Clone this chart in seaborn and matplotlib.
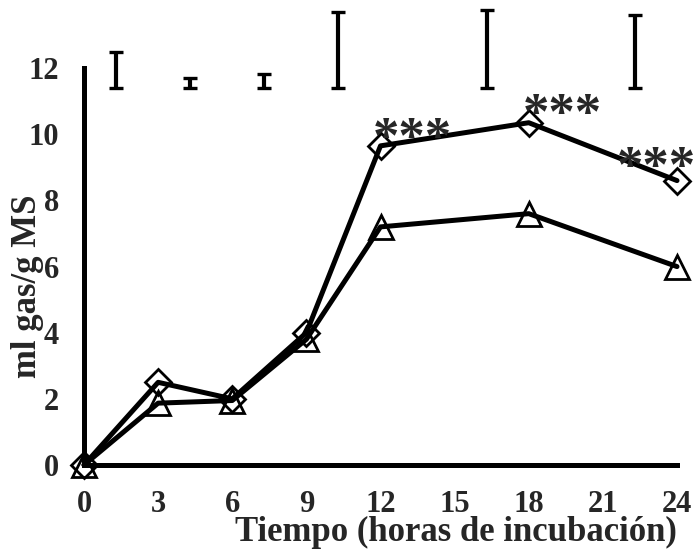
import matplotlib
matplotlib.use("Agg", force=True)
import matplotlib.pyplot as plt
import pandas as pd
import seaborn as sns

hours = [0, 3, 6, 9, 12, 18, 24]
gas_diamond = [0.0, 2.5, 2.0, 4.0, 9.65, 10.35, 8.6]
gas_triangle = [0.0, 1.87, 1.95, 3.8, 7.2, 7.6, 6.0]

# bars drawn along the top of the plot
bar_x = [1.3, 4.3, 7.3, 10.3, 16.3, 22.3]
bar_low = [11.4, 11.4, 11.4, 11.4, 11.4, 11.4]
bar_high = [12.5, 11.7, 11.82, 13.69, 13.75, 13.6]

star_hours = [12, 18, 24]
star_labels = ["***", "***", "***"]


def main() -> None:
    sns.set_style("white")
    plt.rcParams["font.family"] = ["Liberation Serif", "DejaVu Serif"]
    plt.rcParams["font.weight"] = "bold"

    df = pd.DataFrame({"hora": hours, "diamond": gas_diamond, "triangle": gas_triangle})

    fig = plt.figure(figsize=(6.94, 5.49), dpi=100)
    ax = fig.add_axes([84 / 694, 1 - 465 / 549, (677 - 84) / 694, 463 / 549])

    line_kw = dict(color="black", linewidth=3.6, markerfacecolor="none",
                   markeredgecolor="black", markeredgewidth=2.0, clip_on=False, zorder=3)
    sns.lineplot(data=df, x="hora", y="diamond", marker="D", markersize=13, ax=ax, **line_kw)
    sns.lineplot(data=df, x="hora", y="triangle", marker="^", markersize=17, ax=ax, **line_kw)

    mids = [(lo + hi) / 2 for lo, hi in zip(bar_low, bar_high)]
    half = [(hi - lo) / 2 for lo, hi in zip(bar_low, bar_high)]
    ax.errorbar(bar_x, mids, yerr=half, fmt="none", ecolor="black",
                elinewidth=3, capsize=5, capthick=2.4, clip_on=False)

    # star offsets in points from the diamond marker
    offsets = [(23, 4), (24, 5), (-15, 8)]
    for h, lab, off in zip(star_hours, star_labels, offsets):
        y = gas_diamond[hours.index(h)]
        ax.annotate(lab, (h, y), xytext=off, textcoords="offset points",
                    ha="center", va="center", fontsize=38, fontweight="bold",
                    annotation_clip=False, zorder=4)

    ax.set_xlim(0, 24)
    ax.set_ylim(0, 14)
    ax.set_xticks(range(0, 25, 3))
    ax.set_yticks(range(0, 13, 2))
    sns.despine(ax=ax)
    ax.spines["left"].set_bounds(0, 12)
    for side in ("left", "bottom"):
        ax.spines[side].set_linewidth(3.6)
        ax.spines[side].set_color("black")
    ax.tick_params(axis="both", direction="out", length=6, width=3, color="black",
                   labelsize=22, pad=12)
    ax.tick_params(axis="x", pad=12)
    for lab in ax.get_xticklabels() + ax.get_yticklabels():
        lab.set_fontweight("bold")

    ax.set_xlabel("Tiempo (horas de incubación)", fontsize=25, fontweight="bold", loc="right")
    ax.xaxis.set_label_coords(1.0, -0.11)
    ax.set_ylabel("ml gas/g MS", fontsize=25, fontweight="bold")
    ax.yaxis.set_label_coords(-0.067, 0.387)
    ax.grid(False)

    fig.savefig("out.png", dpi=100)


if __name__ == "__main__":
    main()
